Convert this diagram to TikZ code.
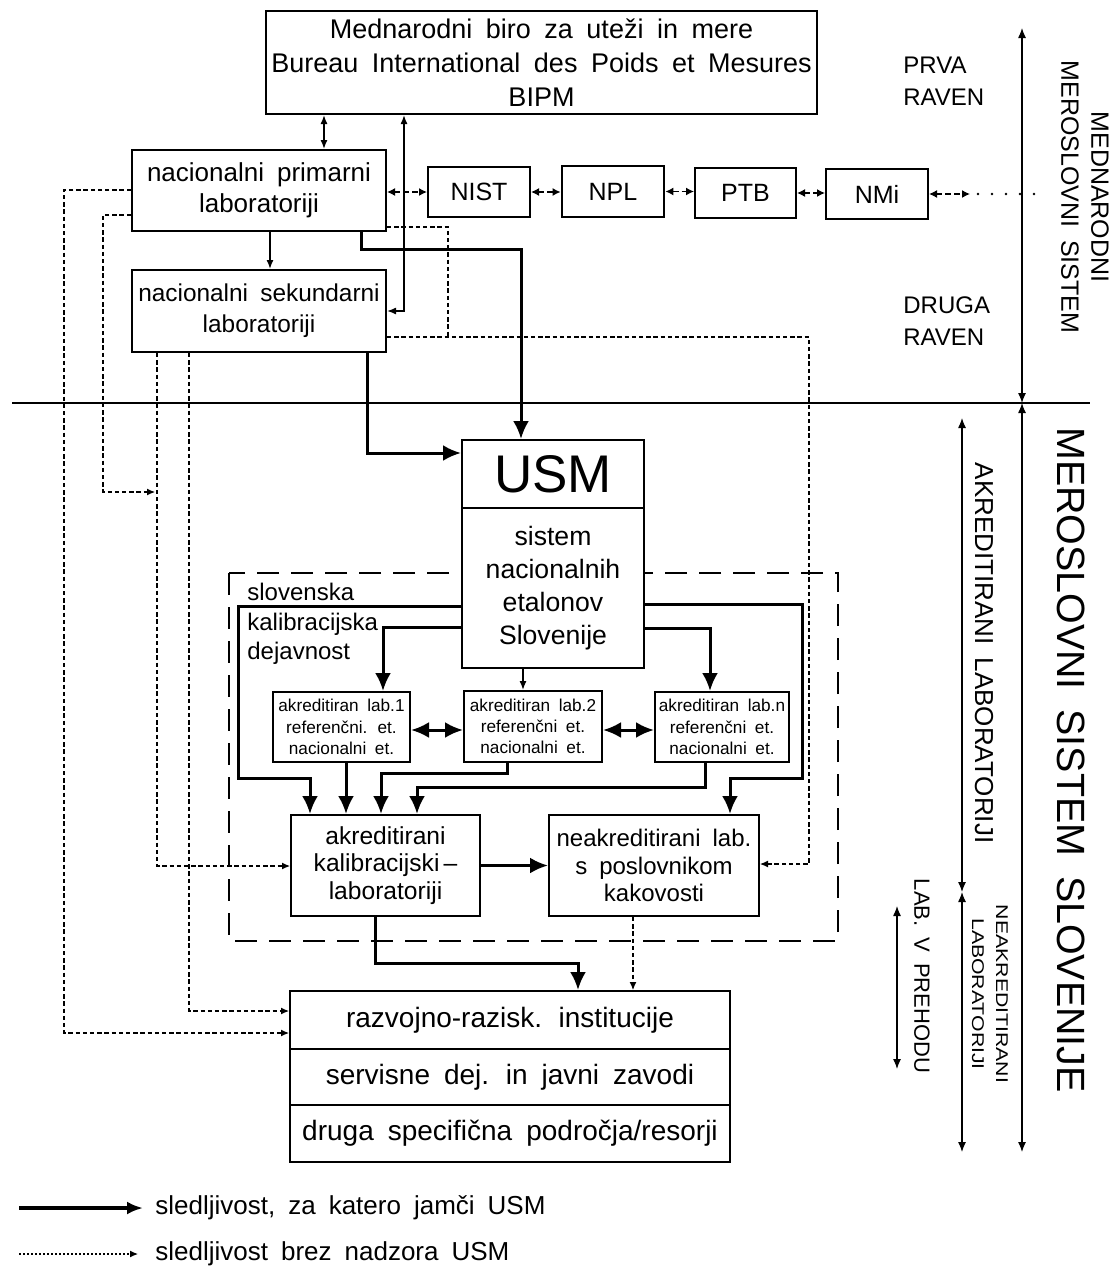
\documentclass[tikz,border=0pt]{standalone}
\usepackage{graphicx}
\usepackage{fontspec}
\setmainfont{Liberation Sans}[WordSpace=1.8]
\usetikzlibrary{arrows.meta}

\newcommand\fsz[2]{\fontsize{#1}{#2}\selectfont}

\begin{document}
\begin{tikzpicture}[x=0.5pt,y=-0.5pt,
  >={Latex[length=4.5pt,width=3.5pt]},
  box/.style={draw, line width=1pt, fill=white, align=center, inner sep=0pt, font=\fsz{13}{15.5}},
  labbox/.style={box, font=\fsz{8.6}{10.6}},
  thickarr/.style={line width=1.5pt, -{Latex[length=9pt,width=8pt]}},
  thickboth/.style={line width=1.5pt, {Latex[length=9pt,width=8pt]}-{Latex[length=9pt,width=8pt]}},
  thinone/.style={line width=0.7pt, ->},
  thinboth/.style={line width=0.7pt, <->},
  dotline/.style={line width=0.55pt, dash pattern=on 2.2pt off 1.4pt},
  dotarr/.style={dotline, -{Latex[length=4pt,width=3.5pt]}},
  chainarr/.style={line width=0.7pt, dash pattern=on 3pt off 1.5pt,
    {Latex[length=4pt,width=4pt]}-{Latex[length=4pt,width=4pt]}},
  dots/.style={line width=1.4pt, line cap=round, dash pattern=on 0pt off 7pt},
  axis/.style={line width=0.6pt, {Latex[length=5pt,width=4pt]}-{Latex[length=5pt,width=4pt]}},
  vlabel/.style={rotate=-90, align=center, inner sep=0pt},
  plain/.style={inner sep=0pt, align=left},
]
\fill[white] (0,0) rectangle (1113,1274);
\useasboundingbox (0,0) rectangle (1113,1274);

% boundary between the international and the Slovenian system
\draw[line width=0.8pt] (12,403) -- (1090,403);

% frame of the Slovenian calibration service
\draw[line width=1.3pt, dash pattern=on 11pt off 6pt] (229,573) rectangle (838,941);

% ---------- boxes ----------
\node[box, minimum width=275.5pt, minimum height=51.5pt, font=\fsz{13.5}{17}] (bipm) at (541.5,62.5)
  {Mednarodni biro za uteži in mere\\Bureau International des Poids et Mesures\\BIPM};
\node[box, minimum width=127pt, minimum height=40.5pt] (prim) at (259,190.5) {nacionalni primarni\\laboratoriji};
\node[box, minimum width=127pt, minimum height=41pt, font=\fsz{12.2}{15.5}] (sek) at (259,311) {nacionalni sekundarni\\laboratoriji};

\node[box, minimum width=51pt, minimum height=25pt, font=\fsz{12.5}{15}] (nist) at (479,192) {NIST};
\node[box, line width=1.4pt, minimum width=51pt, minimum height=25.5pt, font=\fsz{12.5}{15}] (npl) at (613,191.5) {NPL};
\node[box, minimum width=50.5pt, minimum height=25pt, font=\fsz{12.5}{15}] (ptb) at (745.5,193) {PTB};
\node[box, minimum width=51pt, minimum height=25pt, font=\fsz{12.5}{15}] (nmi) at (877,194) {NMi};

\node[box, minimum width=91pt, minimum height=34pt, font=\fsz{26.5}{30}] (usm) at (553,474) {USM};
\node[box, minimum width=91pt, minimum height=80pt, font=\fsz{13.3}{16.5}] (usmsys) at (553,588)
  {sistem\\nacionalnih\\etalonov\\Slovenije};

\node[plain, anchor=north west, font=\fsz{12}{14.75}] (skd) at (247,583) {slovenska\\kalibracijska\\dejavnost};

\node[labbox, minimum width=68.5pt, minimum height=35pt] (lab1) at (341.5,727) {akreditiran lab.1\\referenčni. et.\\nacionalni et.};
\node[labbox, minimum width=69pt, minimum height=35.5pt] (lab2) at (533,726.5) {akreditiran lab.2\\referenčni et.\\nacionalni et.};
\node[labbox, minimum width=67pt, minimum height=35pt] (labn) at (722,727) {akreditiran lab.n\\referenčni et.\\nacionalni et.};

\node[box, minimum width=94.5pt, minimum height=50.5pt, font=\fsz{12.3}{13.75}] (akr) at (385.5,865.5)
  {akreditirani\\kalibracijski\,–\\laboratoriji};
\node[box, minimum width=105pt, minimum height=50.5pt, font=\fsz{12}{13.75}] (neak) at (654,865.5)
  {neakreditirani lab.\\s poslovnikom\\kakovosti};

\node[box, minimum width=220pt, minimum height=29pt, font=\fsz{14}{16}] (r1) at (510,1020) {razvojno-razisk. institucije};
\node[box, minimum width=220pt, minimum height=28pt, font=\fsz{14}{16}] (r2) at (510,1077) {servisne dej. in javni zavodi};
\node[box, minimum width=220pt, minimum height=28.5pt, font=\fsz{14}{16}] (r3) at (510,1133.5) {druga specifična področja/resorji};

% ---------- international level ----------
\draw[thinboth] (324,0 |- bipm.south) -- (324,0 |- prim.north);
\draw[thinboth] (404,0 |- bipm.south) -- (404,311) -- (sek.east);
\draw[thinone] (270,0 |- prim.south) -- (270,0 |- sek.north);

\draw[chainarr] (prim.east |- nist.west) -- (nist.west);
\draw[chainarr] (nist.east) -- (npl.west |- nist.east);
\draw[chainarr] (npl.east) -- (ptb.west |- npl.east);
\draw[chainarr] (ptb.east) -- (nmi.west |- ptb.east);
\coordinate (more) at (970,194);
\coordinate (dotsA) at (978,194);
\coordinate (dotsB) at (1045,194);
\draw[chainarr] (nmi.east) -- (more);
\draw[dots] (dotsA) -- (dotsB);

% ---------- guaranteed traceability ----------
\draw[thickarr] (361,0 |- prim.south) |- (521,249) -- (521,0 |- usm.north);
\draw[thickarr] (367,0 |- sek.south) |- (usm.west |- 0,453);

\draw[thickarr] (usmsys.west |- 0,606) -| (238,778) -| (310,0 |- akr.north);
\draw[thickarr] (usmsys.west |- 0,627) -| (383,0 |- lab1.north);
\draw[thinone] (523,0 |- usmsys.south) -- (523,0 |- lab2.north);
\draw[thickarr] (usmsys.east |- 0,628) -| (710,0 |- labn.north);
\draw[thickarr] (usmsys.east |- 0,604) -| (802,778) -| (730,0 |- neak.north);

\draw[thickboth] (lab1.east |- 0,730) -- (lab2.west |- 0,730);
\draw[thickboth] (lab2.east |- 0,730) -- (labn.west |- 0,730);

\draw[thickarr] (346,0 |- lab1.south) -- (346,0 |- akr.north);
\draw[thickarr] (507,0 |- lab2.south) |- (381,773) -- (381,0 |- akr.north);
\draw[thickarr] (705,0 |- labn.south) |- (417,787) -- (417,0 |- akr.north);
\draw[thickarr] (akr.east) -- (neak.west);
\draw[thickarr] (375,0 |- akr.south) |- (578,963) -- (578,0 |- r1.north);

% ---------- traceability without supervision ----------
\coordinate (jn) at (155,492);
\draw[dotarr] (prim.west |- 0,190) -| (64,1033) -- (r1.west |- 0,1033);
\draw[dotarr] (prim.west |- 0,215) -| (103,492) -- (jn);
\draw[dotarr] (157,0 |- sek.south) |- (akr.west |- 0,866);
\draw[dotarr] (189,0 |- sek.south) |- (r1.west |- 0,1011);
\draw[dotline] (prim.east |- 0,227) -| (448,337);
\draw[dotarr] (sek.east |- 0,337) -| (809,864) -- (neak.east |- 0,864);
\draw[dotarr] (633,0 |- neak.south) -- (633,0 |- r1.north);

% ---------- level labels ----------
\node[plain, anchor=west, font=\fsz{12}{16}] (prva) at (903,81) {PRVA\\RAVEN};
\node[plain, anchor=west, font=\fsz{12}{16}] (druga) at (903,321) {DRUGA\\RAVEN};

% ---------- scales on the right ----------
\coordinate (axT) at (1022,28);
\coordinate (axM) at (1022,403);
\coordinate (axB) at (1022,1152);
\draw[axis] (axT) -- (axM);
\draw[axis] (axM) -- (axB);
\coordinate (akT) at (962,418);
\coordinate (akM) at (962,892);
\coordinate (akB) at (962,1152);
\draw[axis] (akT) -- (akM);
\draw[axis] (akM) -- (akB);
\coordinate (trT) at (897,906);
\coordinate (trB) at (897,1069);
\draw[axis] (trT) -- (trB);

\node[vlabel, font=\fsz{12.5}{15}] (intl) at (1085,197) {MEDNARODNI\\MEROSLOVNI SISTEM};
\node[vlabel, font=\fsz{19.7}{24}] (slo) at (1071,760) {MEROSLOVNI SISTEM SLOVENIJE};
\node[vlabel, font=\fsz{13}{15}] (akrlab) at (984,653) {AKREDITIRANI LABORATORIJI};
\node[vlabel, font=\fsz{8.5}{12}] (neaklab) at (990,994)
  {\scalebox{1.25}[1]{NEAKREDITIRANI}\\\scalebox{1.25}[1]{LABORATORIJI}};
\node[vlabel, font=\fsz{11}{14}] (prehod) at (922,976) {LAB. V PREHODU};

% ---------- legend ----------
\coordinate (lgA) at (19,1208);
\coordinate (lgB) at (143,1208);
\draw[line width=2pt, -{Latex[length=8pt,width=6.5pt]}] (lgA) -- (lgB);
\node[plain, anchor=west, font=\fsz{13}{15}] (lgt1) at (155,1208) {sledljivost, za katero jamči USM};
\coordinate (lgC) at (19,1254);
\coordinate (lgD) at (138,1254);
\draw[line width=0.55pt, dash pattern=on 0.8pt off 1.2pt, -{Latex[length=4pt,width=3.5pt]}] (lgC) -- (lgD);
\node[plain, anchor=west, font=\fsz{13}{15}] (lgt2) at (155,1254) {sledljivost brez nadzora USM};
\end{tikzpicture}
\end{document}
